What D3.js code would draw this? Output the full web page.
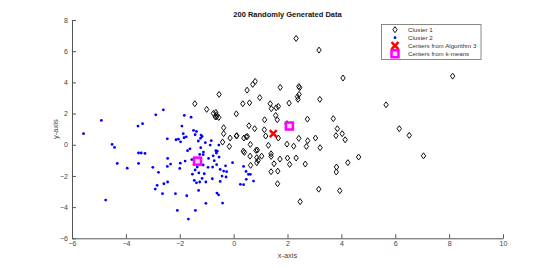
<!DOCTYPE html>
<html>
<head>
<meta charset="utf-8">
<script src="https://cdn.jsdelivr.net/npm/d3@7"></script>
<style>
  body { margin: 0; background: #fff; }
  svg { display: block; font-family: "Liberation Sans", Arial, sans-serif; }
</style>
</head>
<body>
<svg id="chart" width="556" height="268"></svg>
<script>
// cluster 1 (black diamonds)
const c1x = [-1.44,-1.0,-0.54,-0.75,-0.66,-0.64,-0.63,-0.55,-0.68,-0.37,-0.37,-0.41,-0.13,-0.16,0.10,0.10,0.34,0.59,0.50,0.71,
  0.80,0.97,0.38,0.47,0.51,0.57,0.78,0.36,0.40,0.62,0.61,0.63,0.83,0.86,0.86,0.91,1.04,1.15,1.14,1.19,
  1.29,1.36,1.40,1.58,1.66,1.39,1.39,1.39,1.50,1.56,1.62,1.66,1.64,1.63,1.73,2.06,1.98,1.98,2.0,2.08,
  2.23,2.32,2.32,2.37,2.42,2.45,2.43,2.39,2.42,2.47,2.66,2.70,2.75,2.74,3.04,3.17,3.20,3.21,3.16,3.70,
  3.85,3.80,3.82,3.81,3.94,4.03,4.06,4.14,4.24,4.64,5.66,6.15,6.52,7.05,8.13,0.88,0.12,1.72];
const c1y = [2.63,2.27,3.23,2.01,2.07,1.92,1.79,1.75,1.79,1.09,0.71,0.17,0.43,-0.11,1.98,0.56,2.63,2.69,3.50,3.87,
  4.06,3.02,0.43,0.51,0.53,1.22,1.03,-0.41,-0.49,0.02,-0.73,-1.32,-0.36,-0.83,-1.15,-1.0,-0.73,1.60,0.96,0.56,
  -0.04,2.63,2.31,2.37,2.46,-0.58,-0.75,-1.73,-1.22,1.88,1.60,0.43,-1.69,-2.5,3.68,2.67,1.35,0.04,-0.85,-1.26,
  -0.09,-0.85,6.82,3.08,3.74,3.66,3.23,2.91,0.41,-3.65,-1.24,-0.11,0.26,1.64,0.43,6.07,2.91,-0.19,-2.85,1.67,
  1.03,0.58,-1.43,-1.75,-2.95,0.71,4.28,0.32,-1.15,-0.79,2.56,1.03,0.60,-0.71,4.40,-0.34,0.58,-0.92];

// cluster 2 (blue dots)
const c2x = [-5.57,-4.91,-4.75,-4.51,-4.42,-4.32,-3.95,-3.55,-3.38,-3.53,-3.43,-3.29,-3.53,-3.0,-2.89,-2.61,-2.79,-2.84,-2.91,-2.46,
  -2.45,-2.46,-2.34,-2.64,-2.59,-2.45,-2.16,-2.09,-2.14,-2.05,-1.97,-1.98,-2.0,-1.92,-1.87,-1.83,-1.84,-1.76,-1.71,-1.62,
  -1.80,-1.58,-1.74,-1.68,-1.53,-1.49,-1.38,-1.43,-1.42,-1.46,-1.38,-1.43,-1.35,-1.31,-1.30,-1.26,-1.29,-1.23,-1.22,-1.21,
  -1.17,-1.13,-1.13,-1.17,-1.09,-1.05,-1.03,-1.03,-1.12,-1.26,-0.93,-0.83,-0.87,-0.95,-0.76,-0.78,-0.79,-0.66,-0.64,-0.63,
  -0.62,-0.56,-0.61,-0.54,-0.55,-0.50,-0.50,-0.43,-0.41,-0.37,-0.30,-0.28,-0.26,-0.04,0.25,0.37,0.37,0.46,0.55,0.62,
  0.74,0.47,-1.55,-0.72];
const c2y = [0.71,1.56,-3.55,0.02,-0.17,-1.2,-1.5,1.2,1.35,-0.53,-0.53,-0.56,-1.2,-1.45,1.92,2.24,-1.77,-2.6,-2.84,0.38,
  -0.88,-1.39,-1.24,-3.14,-2.5,-2.39,-3.14,-4.21,0.32,0.36,0.19,-1.18,-1.52,1.2,0.71,1.88,0.45,0.51,-0.38,-0.26,
  -1.05,1.77,-3.27,-4.77,-1.89,0.92,0.85,0.64,-4.21,-2.29,-2.44,-1.62,-1.43,0.24,-2.93,-2.39,-1.81,0.41,-0.19,0.62,
  0.53,-1.3,-0.64,-2.16,-1.86,0.13,-2.39,-3.76,-0.47,-0.62,-0.88,0.26,-0.02,-1.45,-0.71,-1.43,-2.18,-0.38,-0.53,-1.28,
  -3.1,-3.21,-0.41,-0.79,-0.02,-2.35,-1.58,-2.01,-3.74,-1.69,-1.35,-2.07,-1.73,-1.15,-2.54,-2.56,-1.39,-1.71,-1.9,-1.9,
  -2.33,-2.22,-0.95,-1.02];

// cluster centers
const algX = [1.47, -1.37];
const algY = [0.71, -1.09];
const kmX = [2.07, -1.34];
const kmY = [1.2, -1.05];

const xTicks = [-6, -4, -2, 0, 2, 4, 6, 8, 10];
const yTicks = [-6, -4, -2, 0, 2, 4, 6, 8];
const legendLabels = ["Cluster 1", "Cluster 2", "Centers from Algorithm 3", "Centers from k-means"];

const svg = d3.select("#chart");
const axisColor = "#555";

const x = d3.scaleLinear().domain([-6, 10]).range([72, 503]);
const y = d3.scaleLinear().domain([-6, 8]).range([238.3, 20]);

// axes (MATLAB style, ticks inward, box off)
const xAxis = svg.append("g")
  .attr("transform", `translate(0,${y(-6)})`)
  .call(d3.axisBottom(x).tickValues(xTicks).tickSizeInner(-4).tickSizeOuter(0).tickPadding(4));
const yAxis = svg.append("g")
  .attr("transform", `translate(${x(-6)},0)`)
  .call(d3.axisLeft(y).tickValues(yTicks).tickSizeInner(-4).tickSizeOuter(0).tickPadding(4));

[xAxis, yAxis].forEach(a => {
  a.select(".domain").attr("stroke", axisColor);
  a.selectAll(".tick line").attr("stroke", axisColor);
  a.selectAll("text").attr("fill", "#444").style("font-size", "7px");
});
xAxis.selectAll("text").attr("dy", "0.6em");

svg.append("text")
  .attr("x", (x(-6) + x(10)) / 2).attr("y", 258)
  .attr("text-anchor", "middle").attr("fill", "#444").style("font-size", "7.5px")
  .text("x-axis");
svg.append("text")
  .attr("transform", `translate(58,${(y(-6) + y(8)) / 2}) rotate(-90)`)
  .attr("text-anchor", "middle").attr("fill", "#444").style("font-size", "7.5px")
  .text("y-axis");
svg.append("text")
  .attr("x", (x(-6) + x(10)) / 2).attr("y", 17)
  .attr("text-anchor", "middle").attr("font-weight", "bold").attr("fill", "#111").style("font-size", "7.5px")
  .text("200 Randomly Generated Data");

// marker shapes
const diamond = "M0,-3L2.2,0L0,3L-2.2,0Z";
const cross = "M-3.5,-3.5L3.5,3.5M-3.5,3.5L3.5,-3.5";

svg.append("g").selectAll("path")
  .data(c1x.map((d, i) => [d, c1y[i]]))
  .join("path")
  .attr("transform", d => `translate(${x(d[0])},${y(d[1])})`)
  .attr("d", diamond)
  .attr("fill", "none").attr("stroke", "#111").attr("stroke-width", 1);

svg.append("g").selectAll("circle")
  .data(c2x.map((d, i) => [d, c2y[i]]))
  .join("circle")
  .attr("cx", d => x(d[0])).attr("cy", d => y(d[1]))
  .attr("r", 1.4).attr("fill", "#0000ff");

svg.append("g").selectAll("path")
  .data(algX.map((d, i) => [d, algY[i]]))
  .join("path")
  .attr("transform", d => `translate(${x(d[0])},${y(d[1])})`)
  .attr("d", cross)
  .attr("stroke", "#ff0000").attr("stroke-width", 2.5).attr("fill", "none");

svg.append("g").selectAll("rect")
  .data(kmX.map((d, i) => [d, kmY[i]]))
  .join("rect")
  .attr("x", d => x(d[0]) - 3.5).attr("y", d => y(d[1]) - 3.5)
  .attr("width", 7).attr("height", 7)
  .attr("fill", "#f8d8f8").attr("stroke", "#ff00ff").attr("stroke-width", 2.5);

// legend
const lg = svg.append("g");
lg.append("rect")
  .attr("x", 381.5).attr("y", 24.5).attr("width", 99.5).attr("height", 35)
  .attr("fill", "#fff").attr("stroke", "#888").attr("stroke-width", 1);
const rowY = [29.7, 37.7, 45.7, 53.7];
const mx = 395;
lg.append("path").attr("transform", `translate(${mx},${rowY[0]})`).attr("d", diamond)
  .attr("fill", "none").attr("stroke", "#111");
lg.append("circle").attr("cx", mx).attr("cy", rowY[1]).attr("r", 1.4).attr("fill", "#0000ff");
lg.append("path").attr("transform", `translate(${mx},${rowY[2]})`).attr("d", cross)
  .attr("stroke", "#ff0000").attr("stroke-width", 2.5);
lg.append("rect").attr("x", mx - 3.5).attr("y", rowY[3] - 3.5).attr("width", 7).attr("height", 7)
  .attr("fill", "#f8d8f8").attr("stroke", "#ff00ff").attr("stroke-width", 2.5);
lg.selectAll("text.lab").data(legendLabels).join("text")
  .attr("class", "lab")
  .attr("x", 408).attr("y", (d, i) => rowY[i])
  .attr("dy", "0.35em").attr("fill", "#333").style("font-size", "6.2px")
  .text(d => d);
</script>
</body>
</html>
